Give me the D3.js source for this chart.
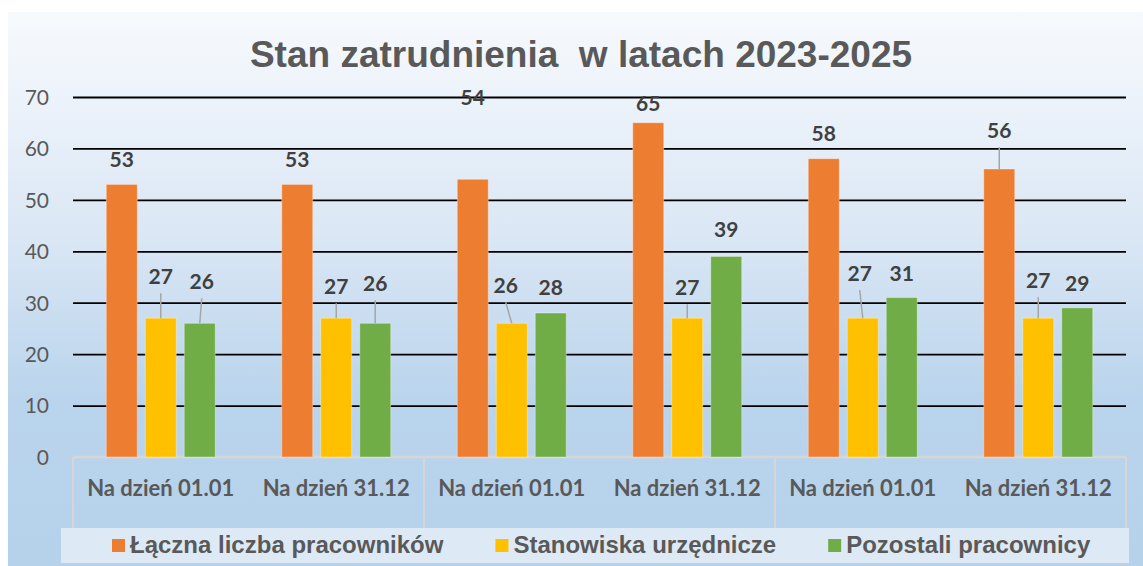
<!DOCTYPE html>
<html>
<head>
<meta charset="utf-8">
<script src="https://cdn.jsdelivr.net/npm/d3@7"></script>
<style>
	body { margin: 0; background: #fff; }
	svg { display: block; }
	.tick-label { font-family: Lato, 'Open Sans', sans-serif; font-size: 21px; fill: #595959; }
	.cat-label { font-family: Lato, sans-serif; font-weight: bold; font-size: 22px; fill: #595959; }
	.val-label { font-family: Lato, sans-serif; font-weight: bold; font-size: 21px; fill: #404040; }
	.title { font-family: 'Liberation Sans', Arial, sans-serif; font-weight: bold; font-size: 37px; fill: #595959; }
	.legend-text { font-family: 'Liberation Sans', Arial, sans-serif; font-weight: bold; font-size: 24px; fill: #595959; }
</style>
</head>
<body>
<svg id="chart" width="1143" height="566"></svg>
<script>
var title = 'Stan zatrudnienia\u00a0 w latach 2023-2025';
var years = ['2023', '2024', '2025'];
var dates = ['Na dzień 01.01', 'Na dzień 31.12'];
var seriesNames = ['Łączna liczba pracowników', 'Stanowiska urzędnicze', 'Pozostali pracownicy'];
var laczna = [53, 53, 54, 65, 58, 56];
var urzednicze = [27, 27, 26, 27, 27, 27];
var pozostali = [26, 26, 28, 39, 31, 29];
var yTicks = [0, 10, 20, 30, 40, 50, 60, 70];
var colors = ['#ed7d31', '#ffc000', '#70ad47'];

// hand placed data labels: px above bar top, px sideways, leader line or not
var labelLift = [[17, 17, 74, 12, 18, 31], [34, 24, 30, 23, 37, 30], [34, 32, 18, 19, 17, 17]];
var labelShift = [[0, 0, 0, 0, 0, 0], [0, 0, -6, 0, -3, 0], [2, 0, 0, 0, 0, 0]];
var labelLeader = [[0, 0, 0, 0, 0, 1], [1, 1, 1, 1, 1, 1], [1, 1, 0, 0, 0, 0]];

var svg = d3.select('#chart');
var W = 1143, H = 566;
var plot = {left: 73, right: 1126, top: 97, bottom: 457};

var series = [laczna, urzednicze, pozostali];
var cats = [];
years.forEach(function(y){ dates.forEach(function(d){ cats.push({year: y, date: d}) }) });

var defs = svg.append('defs');
var grad = defs.append('linearGradient').attr('id', 'bg').attr('x1', 0).attr('y1', 0).attr('x2', 0).attr('y2', 1);
grad.append('stop').attr('offset', '0%').attr('stop-color', '#f7fafd');
grad.append('stop').attr('offset', '40%').attr('stop-color', '#dbe7f5');
grad.append('stop').attr('offset', '70%').attr('stop-color', '#b9d4ec');
grad.append('stop').attr('offset', '100%').attr('stop-color', '#b6d2eb');
// year labels sit behind the legend, only their tops peek out
defs.append('clipPath').attr('id', 'above-legend')
	.append('rect').attr('x', 0).attr('y', 0).attr('width', W).attr('height', 528);

svg.append('rect')
	.attr('x', 8).attr('y', 12)
	.attr('width', W - 8).attr('height', H - 12)
	.attr('fill', 'url(#bg)');

var x0 = d3.scaleBand()
	.domain(d3.range(cats.length))
	.range([plot.left, plot.right]);
var x1 = d3.scaleBand()
	.domain(d3.range(series.length))
	.range([0, x0.bandwidth()])
	.paddingInner(0.205)
	.paddingOuter(0.853);
var y = d3.scaleLinear().domain([0, 70]).range([plot.bottom, plot.top]);
var yearScale = d3.scaleBand().domain(years).range([plot.left, plot.right]);

// title
svg.append('text')
	.attr('class', 'title')
	.attr('x', 581).attr('y', 67)
	.attr('text-anchor', 'middle')
	.text(title);

// grid
var grid = svg.append('g')
	.attr('transform', 'translate(' + plot.left + ',0)')
	.call(d3.axisLeft(y).tickValues(yTicks.slice(1)).tickSize(-(plot.right - plot.left)).tickFormat(''));
grid.select('.domain').remove();
grid.selectAll('line').attr('stroke', '#000').attr('stroke-width', 1.8);

// y tick labels
var yAxis = svg.append('g')
	.attr('transform', 'translate(' + plot.left + ',0)')
	.call(d3.axisLeft(y).tickValues(yTicks).tickSize(0).tickPadding(24));
yAxis.select('.domain').remove();
yAxis.selectAll('text').attr('class', 'tick-label').attr('font-size', null).attr('font-family', null).attr('fill', null).attr('dy', '0.35em');

// category axis box
var axisColor = '#d6d6d6';
svg.append('line')
	.attr('x1', plot.left).attr('x2', plot.right)
	.attr('y1', y(0)).attr('y2', y(0))
	.attr('stroke', axisColor).attr('stroke-width', 2.5);
svg.selectAll('.sep')
	.data(years.concat(['end']))
	.enter()
	.append('line')
	.attr('class', 'sep')
	.attr('x1', function(d, i){ return plot.left + i * yearScale.bandwidth() })
	.attr('x2', function(d, i){ return plot.left + i * yearScale.bandwidth() })
	.attr('y1', y(0)).attr('y2', 545)
	.attr('stroke', axisColor).attr('stroke-width', 2);

svg.selectAll('.date-label')
	.data(cats)
	.enter()
	.append('text')
	.attr('class', 'cat-label')
	.attr('x', function(d, i){ return x0(i) + x0.bandwidth() / 2 })
	.attr('y', 496)
	.attr('text-anchor', 'middle')
	.text(function(d){ return d.date });

svg.append('g')
	.attr('clip-path', 'url(#above-legend)')
	.selectAll('.year-label')
	.data(years)
	.enter()
	.append('text')
	.attr('class', 'cat-label')
	.attr('x', function(d){ return yearScale(d) + yearScale.bandwidth() / 2 })
	.attr('y', 546)
	.attr('text-anchor', 'middle')
	.text(function(d){ return d });

// bars
var groups = svg.selectAll('.grp')
	.data(cats)
	.enter()
	.append('g')
	.attr('transform', function(d, i){ return 'translate(' + x0(i) + ',0)' });

groups.each(function(c, ci){
	var g = d3.select(this);
	series.forEach(function(s, si){
		var v = s[ci];
		var bx = x1(si), bw = x1.bandwidth();
		var top = y(v);
		g.append('rect')
			.attr('x', bx).attr('y', top)
			.attr('width', bw).attr('height', y(0) - top)
			.attr('fill', colors[si])
			.attr('stroke', 'rgba(255,255,255,0.35)')
			.attr('stroke-width', 1);
		var lx = bx + bw / 2 + labelShift[si][ci];
		var ly = top - labelLift[si][ci];
		if (labelLeader[si][ci]) {
			g.append('line')
				.attr('x1', lx).attr('y1', ly + 9)
				.attr('x2', bx + bw / 2).attr('y2', top)
				.attr('stroke', '#a6a6a6').attr('stroke-width', 1.5);
		}
		g.append('text')
			.attr('class', 'val-label')
			.attr('x', lx).attr('y', ly)
			.attr('text-anchor', 'middle')
			.text(v);
	});
});

// legend
var legend = svg.append('g');
legend.append('rect')
	.attr('x', 61).attr('y', 528)
	.attr('width', 1129 - 61).attr('height', 35)
	.attr('fill', '#dde9f5');
var lx = 112;
seriesNames.forEach(function(name, i){
	legend.append('rect')
		.attr('x', lx).attr('y', 539)
		.attr('width', 13).attr('height', 13)
		.attr('fill', colors[i]);
	var t = legend.append('text')
		.attr('class', 'legend-text')
		.attr('x', lx + 18).attr('y', 553)
		.text(name);
	lx += 18 + t.node().getComputedTextLength() + 52;
});
</script>
</body>
</html>
